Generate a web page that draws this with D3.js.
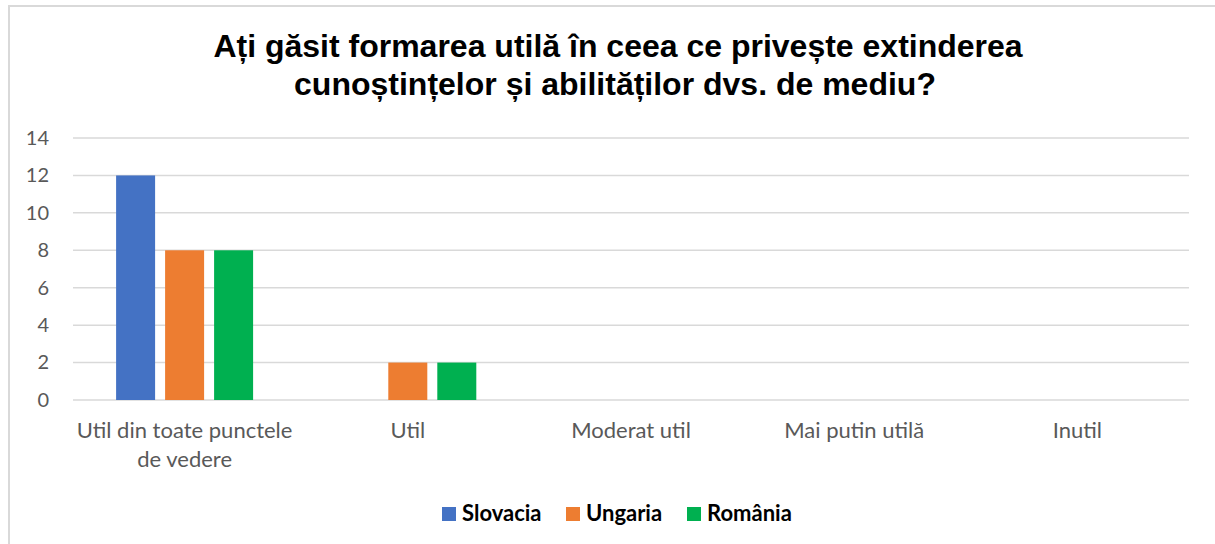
<!DOCTYPE html>
<html lang="ro">
<head>
    <meta charset="UTF-8">
    <script src="https://d3js.org/d3.v7.min.js"></script>
    <style>
        body { margin: 0; padding: 0; background: #fff; }
        svg { display: block; }
        .tick text { font-family: Lato, "Open Sans", sans-serif; fill: #595959; }
    </style>
</head>
<body>
    <svg id="chart"></svg>
    <script>
        const categories = ["Util din toate punctele de vedere", "Util", "Moderat util", "Mai putin utilă", "Inutil"];
        const seriesNames = ["Slovacia", "Ungaria", "România"];
        const slovacia = [12, 0, 0, 0, 0];
        const ungaria = [8, 2, 0, 0, 0];
        const romania = [8, 2, 0, 0, 0];
        const yTicks = [0, 2, 4, 6, 8, 10, 12, 14];
        const colors = ["#4472c4", "#ed7d31", "#00b050"];

        const width = 1215, height = 544;
        const margin = { top: 138, right: 26, bottom: 144, left: 73 };

        const svg = d3.select("#chart").attr("width", width).attr("height", height);

        // outer frame
        svg.append("rect")
            .attr("x", 9).attr("y", 6)
            .attr("width", width).attr("height", height)
            .attr("fill", "none").attr("stroke", "#d9d9d9").attr("stroke-width", 2);

        // title
        const title = svg.append("text")
            .attr("text-anchor", "middle")
            .style("font-family", "'Liberation Sans', Arial, sans-serif")
            .style("font-weight", "bold")
            .style("font-size", "32px")
            .attr("fill", "#000");
        title.append("tspan").attr("x", 618).attr("y", 57).text("Ați găsit formarea utilă în ceea ce privește extinderea");
        title.append("tspan").attr("x", 615).attr("y", 95).text("cunoștințelor și abilităților dvs. de mediu?");

        const x0 = d3.scaleBand()
            .domain(categories)
            .range([margin.left, width - margin.right]);

        const x1 = d3.scaleBand()
            .domain(seriesNames)
            .range([0, 137])
            .paddingInner(10 / 49);

        const y = d3.scaleLinear()
            .domain([0, 14])
            .range([height - margin.bottom, margin.top]);

        // gridlines
        svg.append("g")
            .selectAll("line")
            .data(yTicks)
            .join("line")
            .attr("x1", margin.left).attr("x2", width - margin.right)
            .attr("y1", d => y(d)).attr("y2", d => y(d))
            .attr("stroke", "#d9d9d9").attr("stroke-width", 1.5);

        // y axis
        const yAxis = svg.append("g")
            .attr("transform", `translate(${margin.left},0)`)
            .call(d3.axisLeft(y).tickValues(yTicks).tickSize(0));
        yAxis.select(".domain").remove();
        yAxis.selectAll(".tick text").style("font-size", "20px").attr("text-anchor", "end").attr("x", -24);

        // bars
        const rows = categories.map((c, i) => ({
            cat: c,
            vals: [slovacia[i], ungaria[i], romania[i]].map((v, j) => ({ name: seriesNames[j], v, color: colors[j] }))
        }));

        const offset = (x0.bandwidth() - 137) / 2;
        svg.append("g")
            .selectAll("g")
            .data(rows)
            .join("g")
            .attr("transform", d => `translate(${x0(d.cat) + offset},0)`)
            .selectAll("rect")
            .data(d => d.vals.filter(e => e.v > 0))
            .join("rect")
            .attr("x", d => x1(d.name))
            .attr("width", x1.bandwidth())
            .attr("y", d => y(d.v))
            .attr("height", d => y(0) - y(d.v))
            .attr("fill", d => d.color);

        // x axis
        const xAxis = svg.append("g")
            .attr("transform", `translate(0,${height - margin.bottom})`)
            .call(d3.axisBottom(x0).tickSize(0));
        xAxis.select(".domain").remove();
        xAxis.selectAll(".tick text")
            .style("font-size", "22px")
            .attr("y", 38).attr("dy", null)
            .each(function (d) {
                const t = d3.select(this);
                if (d === categories[0]) {
                    t.text(null);
                    t.append("tspan").attr("x", 0).attr("y", 38).text("Util din toate punctele");
                    t.append("tspan").attr("x", 0).attr("y", 67).text("de vedere");
                }
            });

        // legend
        const legendX = [442, 566, 687];
        const legend = svg.append("g")
            .selectAll("g")
            .data(seriesNames)
            .join("g")
            .attr("transform", (d, i) => `translate(${legendX[i]},507)`);
        legend.append("rect").attr("width", 14).attr("height", 14).attr("fill", (d, i) => colors[i]);
        legend.append("text")
            .attr("x", 20).attr("y", 14)
            .style("font-family", "Lato, 'Open Sans', sans-serif")
            .style("font-weight", "bold")
            .style("font-size", "22px")
            .attr("fill", "#000")
            .text(d => d);
    </script>
</body>
</html>
